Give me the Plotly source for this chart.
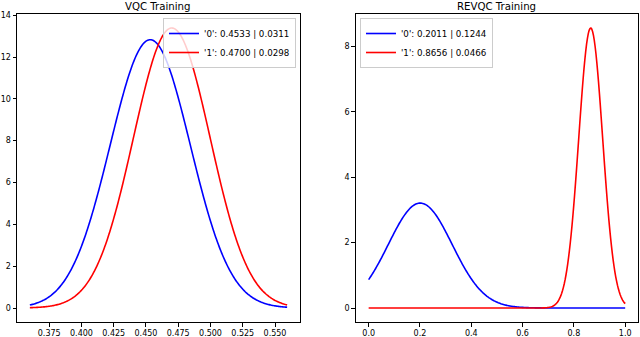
import numpy as np
import plotly.graph_objects as go
from plotly.subplots import make_subplots

# Values read from the legends
titles = ["VQC Training", "REVQC Training"]
labels = ["'0'", "'1'"]
vqc_means = [0.4533, 0.4700]
vqc_stds = [0.0311, 0.0298]
revqc_means = [0.2011, 0.8656]
revqc_stds = [0.1244, 0.0466]
colors = ["blue", "red"]

left_xticks = [0.375, 0.400, 0.425, 0.450, 0.475, 0.500, 0.525, 0.550]
left_yticks = [0, 2, 4, 6, 8, 10, 12, 14]
right_xticks = [0.0, 0.2, 0.4, 0.6, 0.8, 1.0]
right_yticks = [0, 2, 4, 6, 8]


def pdf(x, m, s):
    return np.exp(-0.5 * ((x - m) / s) ** 2) / (s * np.sqrt(2 * np.pi))


fig = make_subplots(rows=1, cols=2, horizontal_spacing=0.0)
FONT = "DejaVu Sans"

# left: range mean +/- 3 std
lo = min(m - 3 * s for m, s in zip(vqc_means, vqc_stds))
hi = max(m + 3 * s for m, s in zip(vqc_means, vqc_stds))
xl = np.linspace(lo, hi, 300)
for lab, m, s, c in zip(labels, vqc_means, vqc_stds, colors):
    fig.add_trace(go.Scatter(x=xl, y=pdf(xl, m, s), mode="lines",
                             line=dict(color=c, width=1.6, simplify=False),
                             name=f"{lab}: {m:.4f} | {s:.4f}", legend="legend"),
                  row=1, col=1)

xr = np.linspace(0, 1, 300)
for lab, m, s, c in zip(labels, revqc_means, revqc_stds, colors):
    fig.add_trace(go.Scatter(x=xr, y=pdf(xr, m, s), mode="lines",
                             line=dict(color=c, width=1.6, simplify=False),
                             name=f"{lab}: {m:.4f} | {s:.4f}", legend="legend2"),
                  row=1, col=2)

ymax_l = max(1 / (s * np.sqrt(2 * np.pi)) for s in vqc_stds)
ymax_r = max(1 / (s * np.sqrt(2 * np.pi)) for s in revqc_stds)
pad_l = (hi - lo) * 0.05

axcommon = dict(showline=True, linecolor="black", linewidth=1, mirror=True,
                ticks="outside", ticklen=3.5, tickwidth=1, tickcolor="black",
                showgrid=False, zeroline=False, automargin=False,
                tickfont=dict(family=FONT, size=8, color="black"))

fig.update_xaxes(axcommon)
fig.update_yaxes(axcommon)
fig.update_xaxes(domain=[0, 0.4557], range=[lo - pad_l, hi + pad_l],
                 tickvals=left_xticks, ticktext=[f"{v:.3f}" for v in left_xticks],
                 row=1, col=1)
fig.update_yaxes(range=[-0.05 * ymax_l, 1.05 * ymax_l], tickvals=left_yticks,
                 ticktext=[str(v) for v in left_yticks], row=1, col=1)
fig.update_xaxes(domain=[0.5456, 1.0], range=[-0.05, 1.05],
                 tickvals=right_xticks, ticktext=[f"{v:.1f}" for v in right_xticks],
                 row=1, col=2)
fig.update_yaxes(range=[-0.05 * ymax_r, 1.05 * ymax_r], tickvals=right_yticks,
                 ticktext=[str(v) for v in right_yticks], row=1, col=2)

legstyle = dict(bgcolor="rgba(255,255,255,0.8)", bordercolor="#cccccc", borderwidth=1,
                font=dict(family=FONT, size=8.7, color="black"),
                itemwidth=30, tracegroupgap=0)
fig.update_layout(
    width=640, height=337,
    template="none",
    margin=dict(l=17, r=2, t=14, b=15),
    plot_bgcolor="white", paper_bgcolor="white",
    legend=dict(x=0.4493, y=0.987, xanchor="right", yanchor="top", **legstyle),
    legend2=dict(x=0.5523, y=0.987, xanchor="left", yanchor="top", **legstyle),
    annotations=[
        dict(text=titles[0], x=0.4557 / 2, y=1.0, xref="paper", yref="paper",
             xanchor="center", yanchor="bottom", yshift=0, showarrow=False,
             font=dict(family=FONT, size=10.2, color="black")),
        dict(text=titles[1], x=(0.5456 + 1) / 2, y=1.0, xref="paper", yref="paper",
             xanchor="center", yanchor="bottom", yshift=0, showarrow=False,
             font=dict(family=FONT, size=10.2, color="black")),
    ],
)

fig.write_html("out.html", config={"displayModeBar": False},
               post_script="document.body.style.margin='0';document.body.style.overflow='hidden';")
